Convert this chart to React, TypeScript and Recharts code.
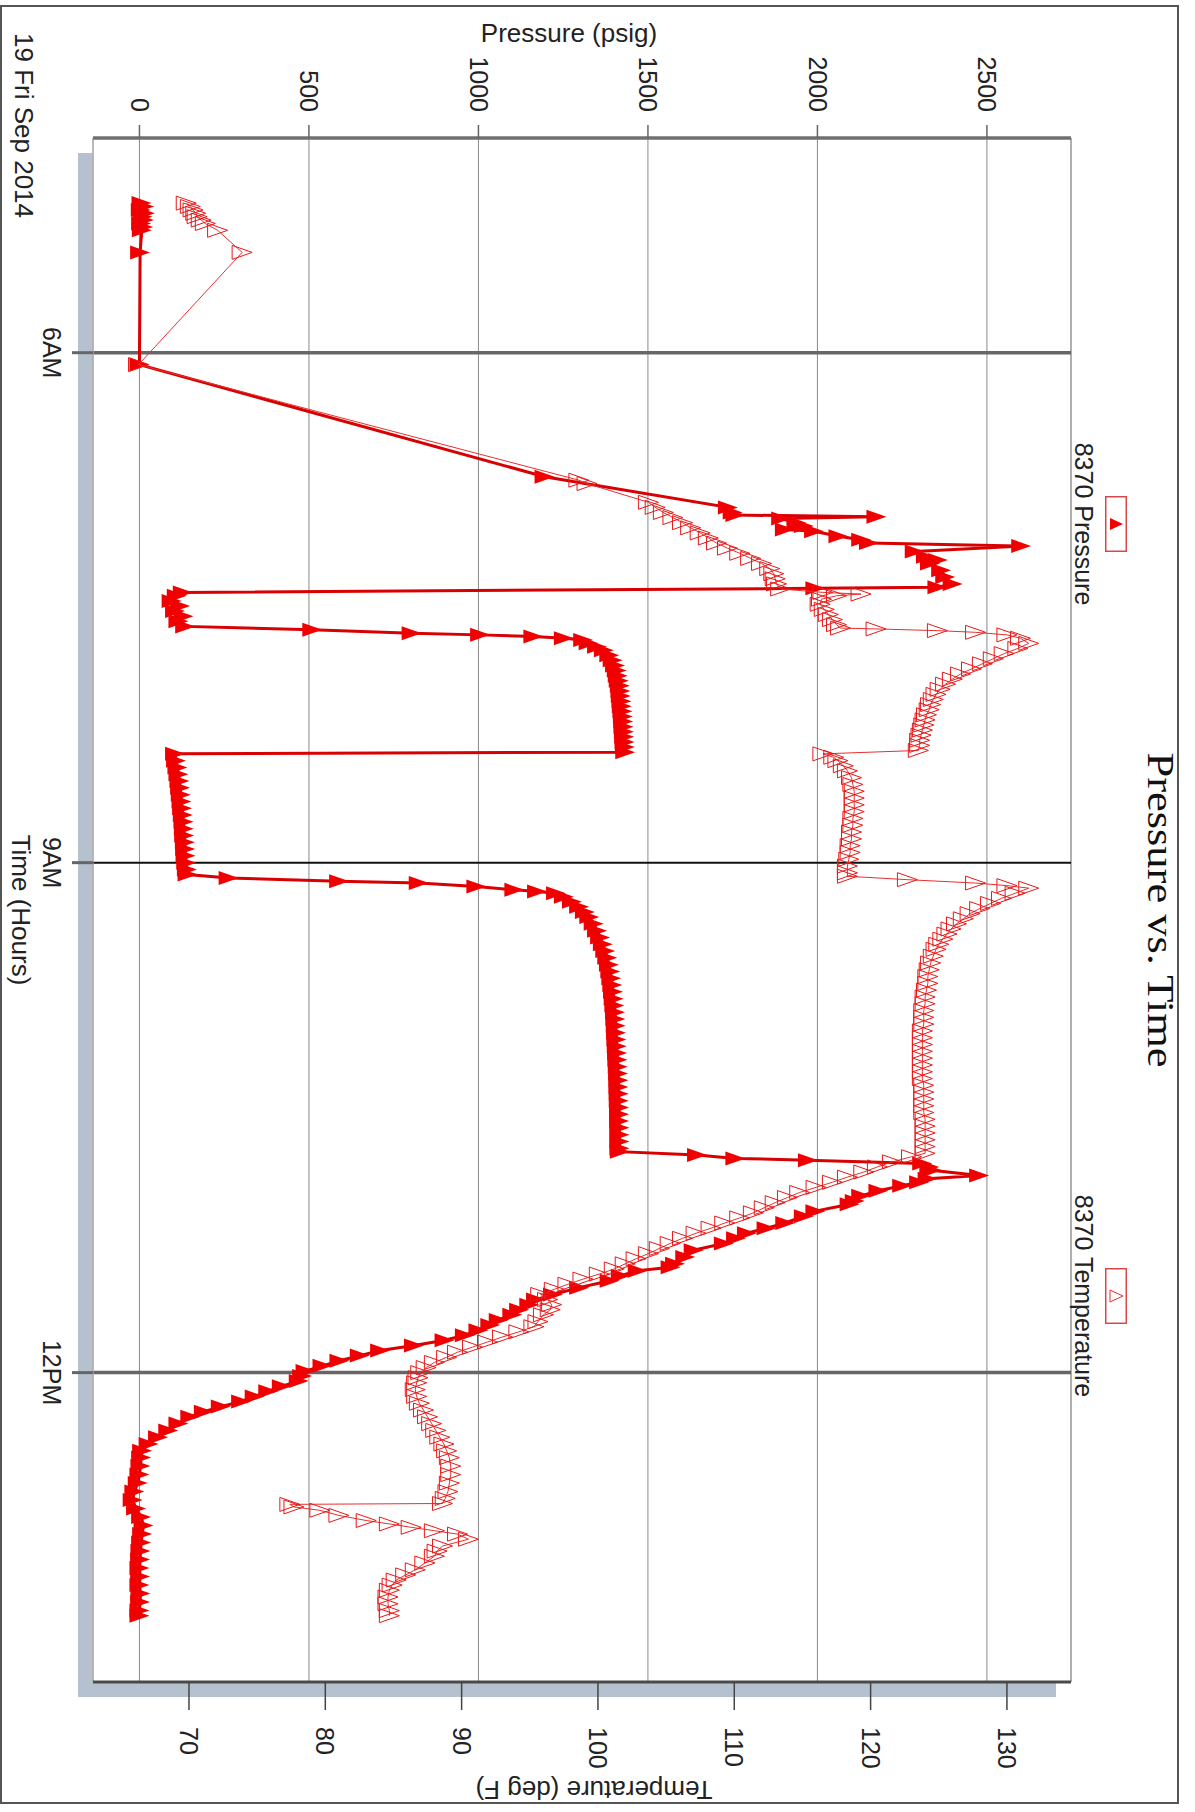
import React from 'react';
import {
  ScatterChart,
  Scatter,
  XAxis,
  YAxis,
  CartesianGrid,
  ReferenceLine,
  ReferenceArea,
  Legend,
} from 'recharts';

// time in decimal hours, pressure in psig, temperature in deg F
const timeDomain: [number, number] = [4.737, 13.82];
const pressureDomain: [number, number] = [-137, 2748];
const temperatureDomain: [number, number] = [62.96, 134.7];

const timeTicks = [6, 9, 12];
const timeLabels = ['6AM', '9AM', '12PM'];
const hourTicks = [5, 6, 7, 8, 9, 10, 11, 12, 13];
const pressureTicks = [0, 500, 1000, 1500, 2000, 2500];
const temperatureTicks = [70, 80, 90, 100, 110, 120, 130];

const range = (from: number, to: number, step: number) => {
  const out: number[] = [];
  for (let v = from; v <= to; v += step) out.push(v);
  return out;
};
const pressureMinorTicks = range(-100, 2700, 100);
const temperatureMinorTicks = range(64, 134, 2);

const pressureSamples: [number, number][] = [
  [5.12, 6], [5.14, 14], [5.16, 4], [5.18, 16], [5.2, 9], [5.22, 13], [5.24, 5], [5.26, 11], [5.28, 7],
  [5.41, 2], [6.07, 0],
  [6.73, 1195],
  [6.91, 1736], [6.94, 1750], [6.955, 1758], [6.965, 2174], [6.975, 1893], [7.0, 1938], [7.02, 1960],
  [7.04, 1904], [7.05, 1990], [7.08, 2062], [7.1, 2129], [7.12, 2152], [7.137, 2601], [7.17, 2287],
  [7.2, 2320], [7.22, 2355], [7.24, 2332], [7.28, 2365], [7.32, 2377], [7.36, 2399], [7.38, 2354],
  [7.386, 1994], [7.41, 128],
  [7.43, 110], [7.46, 95], [7.49, 120], [7.52, 105], [7.55, 130], [7.58, 115], [7.61, 135],
  [7.63, 510], [7.65, 803], [7.66, 1005], [7.67, 1162], [7.68, 1252], [7.69, 1309],
  [7.71, 1325], [7.73, 1350], [7.75, 1370], [7.78, 1386], [7.81, 1396], [7.84, 1403], [7.87, 1408],
  [7.9, 1411], [7.93, 1414], [7.96, 1417], [7.99, 1419], [8.02, 1420], [8.05, 1422], [8.08, 1423],
  [8.11, 1425], [8.14, 1426], [8.17, 1427], [8.2, 1428], [8.23, 1429], [8.26, 1430], [8.29, 1431],
  [8.32, 1432], [8.35, 1433],
  [8.36, 105], [8.4, 108], [8.44, 112], [8.48, 115], [8.52, 118], [8.56, 120], [8.6, 122], [8.64, 124],
  [8.68, 126], [8.72, 128], [8.76, 130], [8.8, 131], [8.84, 132], [8.88, 134], [8.92, 135], [8.96, 136],
  [9.0, 138], [9.04, 140], [9.07, 142],
  [9.09, 263], [9.11, 589], [9.12, 824], [9.14, 994], [9.16, 1106], [9.17, 1173], [9.18, 1229],
  [9.2, 1252], [9.23, 1276], [9.26, 1297], [9.29, 1314], [9.32, 1327], [9.36, 1340], [9.4, 1350],
  [9.44, 1359], [9.48, 1367], [9.52, 1374], [9.56, 1380], [9.6, 1385], [9.64, 1389], [9.68, 1392],
  [9.72, 1395], [9.76, 1397], [9.8, 1399], [9.84, 1401], [9.88, 1403], [9.92, 1404], [9.96, 1405],
  [10.0, 1406], [10.04, 1407], [10.08, 1408], [10.12, 1409], [10.16, 1410], [10.2, 1411], [10.24, 1412],
  [10.28, 1413], [10.32, 1413], [10.36, 1414], [10.4, 1414], [10.44, 1415], [10.48, 1415], [10.52, 1415],
  [10.56, 1416], [10.6, 1416], [10.64, 1416], [10.68, 1416], [10.7, 1417],
  [10.72, 1645], [10.74, 1758], [10.75, 1972], [10.77, 2309], [10.79, 2330], [10.81, 2338], [10.84, 2477],
  [10.86, 2325], [10.88, 2300], [10.9, 2250], [10.93, 2180], [10.96, 2129], [10.99, 2110], [11.01, 2095],
  [11.05, 1994], [11.08, 1960], [11.12, 1905], [11.15, 1850], [11.18, 1792], [11.21, 1760], [11.24, 1724],
  [11.28, 1635], [11.32, 1610], [11.36, 1580], [11.38, 1567], [11.4, 1470], [11.43, 1420], [11.46, 1387],
  [11.5, 1297], [11.54, 1220], [11.57, 1170],
  [11.6, 1150], [11.63, 1120], [11.66, 1100], [11.69, 1060], [11.72, 1035], [11.75, 1000], [11.78, 960],
  [11.81, 900], [11.84, 810], [11.87, 710], [11.9, 650], [11.93, 590], [11.96, 540], [11.99, 490],
  [12.02, 480], [12.05, 470], [12.08, 420], [12.11, 380], [12.14, 340], [12.17, 300], [12.2, 240],
  [12.23, 190], [12.26, 150], [12.3, 115], [12.34, 85], [12.38, 55], [12.42, 27], [12.46, 8],
  [12.5, 5], [12.55, 3], [12.6, 0], [12.65, -5], [12.7, -15], [12.75, -20], [12.8, -10], [12.85, 5],
  [12.9, 12], [12.95, 8], [13.0, 5], [13.05, 3], [13.1, 2], [13.15, 0], [13.2, 2], [13.25, 0],
  [13.3, 3], [13.35, 2], [13.4, 0], [13.43, 0],
];

const temperatureSamples: [number, number][] = [
  [5.12, 69.8], [5.14, 70.1], [5.16, 70.3], [5.18, 70.5], [5.2, 70.6], [5.22, 70.9], [5.24, 71.2], [5.28, 72.1],
  [5.41, 73.9], [6.07, 66.3],
  [6.75, 98.6], [6.77, 99.2], [6.88, 103.7], [6.91, 104.2], [6.94, 104.8], [6.97, 105.5], [7.0, 106.2],
  [7.03, 106.8], [7.06, 107.5], [7.09, 108.1], [7.12, 108.7], [7.15, 109.5], [7.18, 110.4], [7.21, 111.2],
  [7.24, 112.0], [7.27, 112.6], [7.3, 112.9], [7.33, 113.0], [7.36, 113.1], [7.39, 113.4],
  [7.41, 116.5], [7.42, 119.3], [7.43, 117.5], [7.45, 116.4], [7.48, 116.3], [7.51, 116.6], [7.54, 116.9],
  [7.57, 117.2], [7.6, 117.5], [7.62, 117.8],
  [7.625, 120.4], [7.635, 124.9], [7.645, 127.7], [7.66, 130.0], [7.68, 131.0], [7.71, 131.6],
  [7.74, 130.8], [7.77, 129.8], [7.8, 129.0], [7.83, 128.2], [7.86, 127.4], [7.89, 126.6], [7.92, 126.0],
  [7.95, 125.5], [7.98, 125.1], [8.01, 124.8], [8.04, 124.6], [8.07, 124.4], [8.1, 124.3], [8.13, 124.1],
  [8.16, 124.0], [8.19, 123.9], [8.22, 123.8], [8.25, 123.7], [8.28, 123.6], [8.31, 123.6], [8.34, 123.5],
  [8.36, 116.5], [8.38, 117.3], [8.4, 117.6], [8.43, 118.0], [8.46, 118.3], [8.5, 118.6], [8.54, 118.7],
  [8.58, 118.8], [8.62, 118.8], [8.66, 118.8], [8.7, 118.8], [8.74, 118.7], [8.78, 118.7], [8.82, 118.6],
  [8.86, 118.6], [8.9, 118.5], [8.94, 118.5], [8.98, 118.4], [9.02, 118.3], [9.06, 118.3], [9.08, 118.3],
  [9.1, 122.7], [9.12, 127.7], [9.135, 130.0], [9.15, 131.6],
  [9.18, 130.6], [9.21, 129.6], [9.24, 128.8], [9.27, 128.0], [9.3, 127.3], [9.33, 126.8], [9.36, 126.3],
  [9.39, 125.9], [9.42, 125.6], [9.45, 125.3], [9.48, 125.0], [9.51, 124.8], [9.55, 124.6], [9.59, 124.4],
  [9.63, 124.3], [9.67, 124.2], [9.71, 124.2], [9.75, 124.1], [9.79, 124.0], [9.83, 124.0], [9.87, 123.9],
  [9.91, 123.9], [9.95, 123.9], [9.99, 123.8], [10.03, 123.8], [10.07, 123.8], [10.11, 123.8],
  [10.15, 123.8], [10.19, 123.8], [10.23, 123.8], [10.27, 123.8], [10.31, 123.9], [10.35, 123.9],
  [10.39, 123.9], [10.43, 123.9], [10.47, 123.9], [10.51, 124.0], [10.55, 124.0], [10.59, 124.0],
  [10.63, 124.0], [10.67, 124.0], [10.71, 124.0],
  [10.73, 123.0], [10.76, 121.6], [10.79, 120.5], [10.82, 119.5], [10.85, 118.3], [10.88, 117.2],
  [10.91, 116.0], [10.94, 114.8], [10.97, 113.9], [11.0, 113.0], [11.03, 112.2], [11.06, 111.4],
  [11.09, 110.4], [11.12, 109.3], [11.15, 108.3], [11.18, 107.2], [11.21, 106.2], [11.24, 105.3],
  [11.27, 104.5], [11.3, 103.7], [11.33, 102.8], [11.36, 102.0], [11.39, 101.2], [11.42, 100.1],
  [11.45, 98.9], [11.48, 97.8], [11.51, 96.8], [11.54, 95.8],
  [11.57, 96.3], [11.6, 96.6], [11.63, 96.5], [11.66, 96.0], [11.7, 95.6], [11.73, 95.3], [11.76, 94.2],
  [11.79, 93.0], [11.82, 91.9], [11.85, 90.8], [11.88, 89.7], [11.91, 88.9], [11.94, 88.0], [11.97, 87.4],
  [12.0, 87.0], [12.03, 86.8], [12.06, 86.7], [12.1, 86.6], [12.14, 86.7], [12.18, 86.9], [12.22, 87.2],
  [12.26, 87.5], [12.3, 87.8], [12.34, 88.1], [12.38, 88.4], [12.42, 88.7], [12.46, 88.9], [12.5, 89.1],
  [12.55, 89.2], [12.6, 89.2], [12.65, 89.1], [12.7, 89.0], [12.74, 88.8], [12.77, 88.6],
  [12.775, 77.4], [12.79, 77.7], [12.81, 79.6], [12.84, 81.0], [12.87, 83.0], [12.89, 84.7], [12.91, 86.3],
  [12.93, 88.0], [12.95, 89.7], [12.98, 90.5],
  [13.02, 88.6], [13.05, 88.2], [13.08, 88.0], [13.12, 87.3], [13.16, 86.6], [13.19, 85.9], [13.22, 85.2],
  [13.25, 84.9], [13.28, 84.7], [13.32, 84.6], [13.36, 84.6], [13.4, 84.7], [13.43, 84.7],
];

const pressureData = pressureSamples.map(([t, p]) => ({ t, p }));
const temperatureData = temperatureSamples.map(([t, f]) => ({ t, f }));

const FONT = '"Liberation Sans", Arial, sans-serif';
const RED = '#f00000';

const FilledTriangle = (props: any) => {
  const { cx, cy } = props;
  if (cx == null || cy == null) return null;
  return <polygon points={`${cx},${cy - 10} ${cx + 7},${cy + 10} ${cx - 7},${cy + 10}`} fill={RED} />;
};

const HollowTriangle = (props: any) => {
  const { cx, cy } = props;
  if (cx == null || cy == null) return null;
  return (
    <polygon
      points={`${cx},${cy - 10} ${cx + 7},${cy + 10} ${cx - 7},${cy + 10}`}
      fill="none"
      stroke="#e81818"
      strokeWidth={1}
    />
  );
};

const renderLegend = (props: any) => {
  const payload = props.payload || [];
  return (
    <div style={{ display: 'flex', width: '100%' }}>
      {payload.map((entry: any) => {
        const filled = entry.value === '8370 Pressure';
        return (
          <div
            key={entry.value}
            style={{ flex: 1, display: 'flex', flexDirection: 'column', alignItems: 'center' }}
          >
            <svg width={56} height={22} style={{ display: 'block' }}>
              <rect x={0.75} y={0.75} width={54.5} height={20.5} fill="#fff" stroke="#d84848" strokeWidth={1.5} />
              <polygon
                points="28,4 34,17 22,17"
                fill={filled ? RED : 'none'}
                stroke={filled ? 'none' : '#e03030'}
                strokeWidth={1}
              />
            </svg>
            <div style={{ marginTop: 9, fontFamily: FONT, fontSize: 25, lineHeight: '24px', color: '#222' }}>
              {entry.value}
            </div>
          </div>
        );
      })}
    </div>
  );
};

export default function App() {
  const tickStyle = { fontSize: 25, fill: '#222', fontFamily: FONT };
  return (
    <div
      style={{
        position: 'absolute',
        left: 0,
        top: 0,
        width: 1195,
        height: 1812,
        overflow: 'hidden',
        background: '#fff',
      }}
    >
      {/* chart is laid out landscape and turned a quarter clockwise */}
      <div
        style={{
          position: 'absolute',
          left: 0,
          top: 0,
          width: 1812,
          height: 1195,
          transformOrigin: '0 0',
          transform: 'translateX(1195px) rotate(90deg)',
        }}
      >
        <div style={{ position: 'absolute', left: 153, top: 139, width: 1544, height: 978, background: '#b5c1cf' }} />
        <div style={{ position: 'absolute', left: 138, top: 124, width: 1544, height: 978, background: '#fff' }} />
        <div style={{ position: 'absolute', left: 0, top: 0 }}>
          <ScatterChart width={1812} height={1195} margin={{ top: 124, right: 0, bottom: 0, left: 18 }}>
            <CartesianGrid xAxisId="time" yAxisId="psi" vertical={false} stroke="#8a8a8a" strokeWidth={1} />
            <XAxis
              xAxisId="time"
              type="number"
              dataKey="t"
              domain={timeDomain}
              allowDataOverflow
              ticks={timeTicks}
              interval={0}
              height={93}
              tickSize={21}
              tickMargin={11}
              tick={tickStyle}
              tickFormatter={(v: number) => timeLabels[timeTicks.indexOf(v)]}
              axisLine={{ stroke: '#c4c4c4', strokeWidth: 1 }}
              tickLine={{ stroke: '#666', strokeWidth: 3 }}
            />
            <XAxis
              xAxisId="hours"
              type="number"
              domain={timeDomain}
              allowDataOverflow
              ticks={hourTicks}
              interval={0}
              mirror
              height={0}
              tick={false}
              tickSize={6}
              axisLine={false}
              tickLine={{ stroke: '#333', strokeWidth: 3 }}
            />
            <YAxis
              yAxisId="psi"
              type="number"
              dataKey="p"
              orientation="left"
              domain={pressureDomain}
              allowDataOverflow
              ticks={pressureTicks}
              interval={0}
              width={120}
              tickSize={13}
              tickMargin={13}
              tick={tickStyle}
              axisLine={{ stroke: '#707070', strokeWidth: 3.5 }}
              tickLine={{ stroke: '#666', strokeWidth: 1.5 }}
            />
            <YAxis
              yAxisId="psiMinor"
              type="number"
              orientation="left"
              domain={pressureDomain}
              allowDataOverflow
              ticks={pressureMinorTicks}
              interval={0}
              mirror
              width={0}
              tick={false}
              tickSize={10}
              axisLine={false}
              tickLine={{ stroke: '#777', strokeWidth: 1 }}
            />
            <YAxis
              yAxisId="degF"
              type="number"
              dataKey="f"
              orientation="right"
              domain={temperatureDomain}
              allowDataOverflow
              ticks={temperatureTicks}
              interval={0}
              width={130}
              tickSize={28}
              tickMargin={17}
              tick={tickStyle}
              axisLine={{ stroke: '#4a4a4a', strokeWidth: 3 }}
              tickLine={{ stroke: '#444', strokeWidth: 1.5 }}
            />
            <YAxis
              yAxisId="degFMinor"
              type="number"
              orientation="right"
              domain={temperatureDomain}
              allowDataOverflow
              ticks={temperatureMinorTicks}
              interval={0}
              mirror
              width={0}
              tick={false}
              tickSize={12}
              axisLine={false}
              tickLine={{ stroke: '#555', strokeWidth: 1.5 }}
            />
            <ReferenceArea
              xAxisId="time"
              yAxisId="psi"
              x1={timeDomain[0]}
              x2={timeDomain[1]}
              y1={pressureDomain[0]}
              y2={pressureDomain[1]}
              fill="none"
              stroke="#9a9a9a"
              strokeWidth={1}
            />
            <ReferenceLine xAxisId="time" yAxisId="psi" x={6} stroke="#666" strokeWidth={3.5} />
            <ReferenceLine xAxisId="time" yAxisId="psi" x={9} stroke="#111" strokeWidth={2} />
            <ReferenceLine xAxisId="time" yAxisId="psi" x={12} stroke="#666" strokeWidth={3.5} />
            <Legend
              layout="vertical"
              align="center"
              verticalAlign="middle"
              content={renderLegend}
              wrapperStyle={{ top: 68, left: 138, width: 1544, height: 60 }}
            />
            <Scatter
              name="8370 Pressure"
              data={pressureData}
              xAxisId="time"
              yAxisId="psi"
              fill={RED}
              line={{ stroke: '#d80000', strokeWidth: 3 }}
              lineJointType="linear"
              shape={<FilledTriangle />}
              isAnimationActive={false}
            />
            <Scatter
              name="8370 Temperature"
              data={temperatureData}
              xAxisId="time"
              yAxisId="degF"
              fill="#e81818"
              line={{ stroke: '#e83030', strokeWidth: 1 }}
              lineJointType="linear"
              shape={<HollowTriangle />}
              isAnimationActive={false}
            />
          </ScatterChart>
        </div>
        <svg
          width={1812}
          height={1195}
          style={{ position: 'absolute', left: 0, top: 0, pointerEvents: 'none' }}
        >
          <rect x={6} y={17} width={1797} height={1177} fill="none" stroke="#555" strokeWidth={2} />
          <text
            x={910}
            y={47}
            textAnchor="middle"
            textLength={315}
            lengthAdjust="spacingAndGlyphs"
            fontFamily='"Liberation Serif", "Times New Roman", serif'
            fontSize={38}
            fill="#111"
          >
            Pressure vs. Time
          </text>
          <text
            transform="translate(33,626) rotate(-90)"
            textAnchor="middle"
            dominantBaseline="central"
            fontFamily={FONT}
            fontSize={26}
            fill="#222"
          >
            Pressure (psig)
          </text>
          <text
            transform="translate(1790,601) rotate(90)"
            textAnchor="middle"
            dominantBaseline="central"
            fontFamily={FONT}
            fontSize={26}
            fill="#222"
          >
            Temperature (deg F)
          </text>
          <text x={910} y={1183} textAnchor="middle" fontFamily={FONT} fontSize={26} fill="#222">
            Time (Hours)
          </text>
          <text x={33} y={1180} fontFamily={FONT} fontSize={26} fill="#222">
            19 Fri Sep 2014
          </text>
        </svg>
      </div>
    </div>
  );
}
